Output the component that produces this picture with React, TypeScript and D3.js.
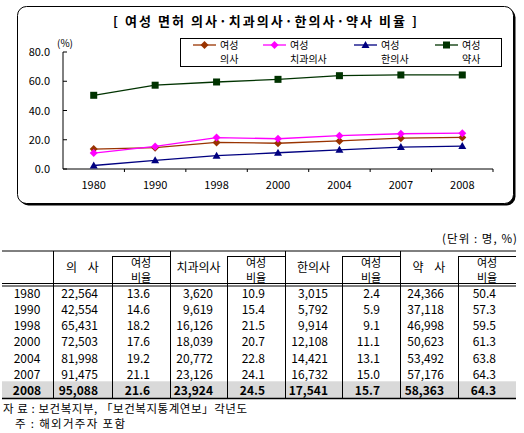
import React from 'react'
import * as d3 from 'd3'

const years = ['1980', '1990', '1998', '2000', '2004', '2007', '2008']
const doctorCount = [22564, 42554, 65431, 72503, 81998, 91475, 95088]
const doctorRate = [13.6, 14.6, 18.2, 17.6, 19.2, 21.1, 21.6]
const dentistCount = [3620, 9619, 16126, 18039, 20772, 23126, 23924]
const dentistRate = [10.9, 15.4, 21.5, 20.7, 22.8, 24.1, 24.5]
const orientalCount = [3015, 5792, 9914, 12108, 14421, 16732, 17541]
const orientalRate = [2.4, 5.9, 9.1, 11.1, 13.1, 15.0, 15.7]
const pharmCount = [24366, 37118, 46998, 50623, 53492, 57176, 58363]
const pharmRate = [50.4, 57.3, 59.5, 61.3, 63.8, 64.3, 64.3]
const yTicks = [0, 20, 40, 60, 80]

const title = '[ 여성 면허 의사·치과의사·한의사·약사 비율 ]'
const seriesLabels = [['여성', '의사'], ['여성', '치과의사'], ['여성', '한의사'], ['여성', '약사']]
const headerLabels = ['의    사', '치과의사', '한의사', '약    사']
const rateHeader = ['여성', '비율']
const unitLabel = '(단위 : 명, %)'
const sourceNote = '자 료 : 보건복지부, 「보건복지통계연보」각년도'
const footNote = '주 : 해외거주자 포함'

const FONT = '"Noto Sans CJK KR", "Noto Sans", sans-serif'

const series = [
  { rates: doctorRate, color: '#993300', marker: 'diamond' },
  { rates: dentistRate, color: '#ff00ff', marker: 'diamond' },
  { rates: orientalRate, color: '#000080', marker: 'triangle' },
  { rates: pharmRate, color: '#003300', marker: 'square' },
]

const Marker = ({ x, y, type, color }: { x: number; y: number; type: string; color: string }) => {
  if (type === 'square') return <rect x={x - 3.5} y={y - 3.5} width={7} height={7} fill={color} />
  if (type === 'triangle') return <path d={`M${x},${y - 4}L${x + 4},${y + 3}L${x - 4},${y + 3}Z`} fill={color} />
  return <path d={`M${x},${y - 4}L${x + 4},${y}L${x},${y + 4}L${x - 4},${y}Z`} fill={color} />
}

const fmt = d3.format(',')
const fmt1 = d3.format('.1f')

export default function App() {
  const x = d3.scaleBand<string>().domain(years).range([63, 493])
  const y = d3.scaleLinear().domain([0, 80]).range([169, 52])
  const line = d3.line<number>()
    .x((_, i) => x(years[i])! + x.bandwidth() / 2)
    .y(d => y(d))

  const legendX = [193, 263, 354, 435]

  // table layout
  const cols = [2, 53, 112, 170, 227, 285, 342, 400, 458, 516]
  const topY = 251
  const subTop = 256
  const headBot = 283.5
  const rowY = d3.scaleLinear().domain([0, 1]).range([293.5, 309.8])
  const bottomY = 398.5
  const groups = [
    { count: doctorCount, rate: doctorRate },
    { count: dentistCount, rate: dentistRate },
    { count: orientalCount, rate: orientalRate },
    { count: pharmCount, rate: pharmRate },
  ]

  return (
    <svg width={524} height={433} style={{ position: 'absolute', left: 0, top: 0, fontFamily: FONT }}>
      <rect width={524} height={433} fill="#fff" />
      {/* chart frame with shadow */}
      <rect x={19.5} y={8.5} width={496} height={197} rx={9} fill="#000" />
      <rect x={17.5} y={6.5} width={496} height={197} rx={9} fill="#fff" stroke="#000" strokeWidth={1} />
      <text x={265} y={26} textAnchor="middle" fontSize={13} fontWeight="bold" textLength={304} lengthAdjust="spacing">{title}</text>

      {/* y axis */}
      <line x1={63} x2={63} y1={y(80)} y2={y(0)} stroke="#000" />
      {yTicks.map(t => (
        <g key={t}>
          <line x1={63} x2={67} y1={y(t)} y2={y(t)} stroke="#000" />
          <text x={50} y={y(t) + 4} textAnchor="end" fontSize={11}>{fmt1(t)}</text>
        </g>
      ))}
      <text x={57} y={47} fontSize={10}>(%)</text>

      {/* x axis */}
      <line x1={63} x2={493} y1={y(0)} y2={y(0)} stroke="#000" />
      {years.map((yr, i) => (
        <g key={yr}>
          <line x1={x(yr)! + x.bandwidth()} x2={x(yr)! + x.bandwidth()} y1={y(0)} y2={y(0) + 3} stroke="#000" />
          <text x={x(yr)! + x.bandwidth() / 2} y={189} textAnchor="middle" fontSize={11}>{yr}</text>
        </g>
      ))}

      {series.map((s, si) => (
        <g key={si}>
          <path d={line(s.rates)!} fill="none" stroke={s.color} strokeWidth={1.3} />
          {s.rates.map((v, i) => (
            <Marker key={i} x={x(years[i])! + x.bandwidth() / 2} y={y(v)} type={s.marker} color={s.color} />
          ))}
        </g>
      ))}

      {/* legend */}
      <rect x={180.5} y={38.5} width={321} height={28} fill="#fff" stroke="#000" />
      {series.map((s, si) => (
        <g key={si}>
          <line x1={legendX[si]} x2={legendX[si] + 23} y1={45} y2={45} stroke={s.color} strokeWidth={1.3} />
          <Marker x={legendX[si] + 11.5} y={45} type={s.marker} color={s.color} />
          <text x={legendX[si] + 27} y={49} fontSize={10}>{seriesLabels[si][0]}</text>
          <text x={legendX[si] + 27} y={62.5} fontSize={10}>{seriesLabels[si][1]}</text>
        </g>
      ))}

      {/* table */}
      <text x={517} y={243} textAnchor="end" fontSize={11.5} textLength={75} lengthAdjust="spacing">{unitLabel}</text>
      <rect x={cols[0]} y={rowY(6) - 10} width={cols[9] - cols[0]} height={bottomY - rowY(6) + 10} fill="#d9d9d9" />
      <line x1={cols[0]} x2={cols[9]} y1={topY} y2={topY} stroke="#000" />
      <line x1={cols[0]} x2={cols[9]} y1={headBot} y2={headBot} stroke="#000" />
      <line x1={cols[0]} x2={cols[9]} y1={headBot + 2.5} y2={headBot + 2.5} stroke="#000" />
      <line x1={cols[0]} x2={cols[9]} y1={bottomY} y2={bottomY} stroke="#000" strokeWidth={1.3} />
      {groups.map((g, gi) => {
        const c0 = cols[1 + gi * 2]
        const c1 = cols[2 + gi * 2]
        const c2 = cols[3 + gi * 2]
        return (
          <g key={gi}>
            <line x1={c0 + 0.5} x2={c0 + 0.5} y1={topY} y2={bottomY} stroke="#000" />
            <line x1={c1 + 0.5} x2={c1 + 0.5} y1={subTop} y2={bottomY} stroke="#000" />
            <line x1={c1} x2={c2} y1={subTop + 0.5} y2={subTop + 0.5} stroke="#000" />
            <text x={(c0 + c1) / 2} y={272} textAnchor="middle" fontSize={12} style={{ whiteSpace: 'pre' }}>{headerLabels[gi]}</text>
            <text x={(c1 + c2) / 2} y={267} textAnchor="middle" fontSize={11}>{rateHeader[0]}</text>
            <text x={(c1 + c2) / 2} y={281.5} textAnchor="middle" fontSize={11}>{rateHeader[1]}</text>
            {years.map((yr, i) => (
              <g key={yr} fontWeight={i === years.length - 1 ? 'bold' : 'normal'}>
                <text x={c1 - 14} y={rowY(i) + 4} textAnchor="end" fontSize={12}>{fmt(g.count[i])}</text>
                <text x={c2 - 20} y={rowY(i) + 4} textAnchor="end" fontSize={12}>{fmt1(g.rate[i])}</text>
              </g>
            ))}
          </g>
        )
      })}
      {years.map((yr, i) => (
        <text key={yr} x={27} y={rowY(i) + 4} textAnchor="middle" fontSize={12} fontWeight={i === years.length - 1 ? 'bold' : 'normal'}>{yr}</text>
      ))}

      <text x={3} y={413} fontSize={11.5} textLength={244} lengthAdjust="spacing">{sourceNote}</text>
      <text x={15} y={428} fontSize={11.5} textLength={110} lengthAdjust="spacing">{footNote}</text>
    </svg>
  )
}
